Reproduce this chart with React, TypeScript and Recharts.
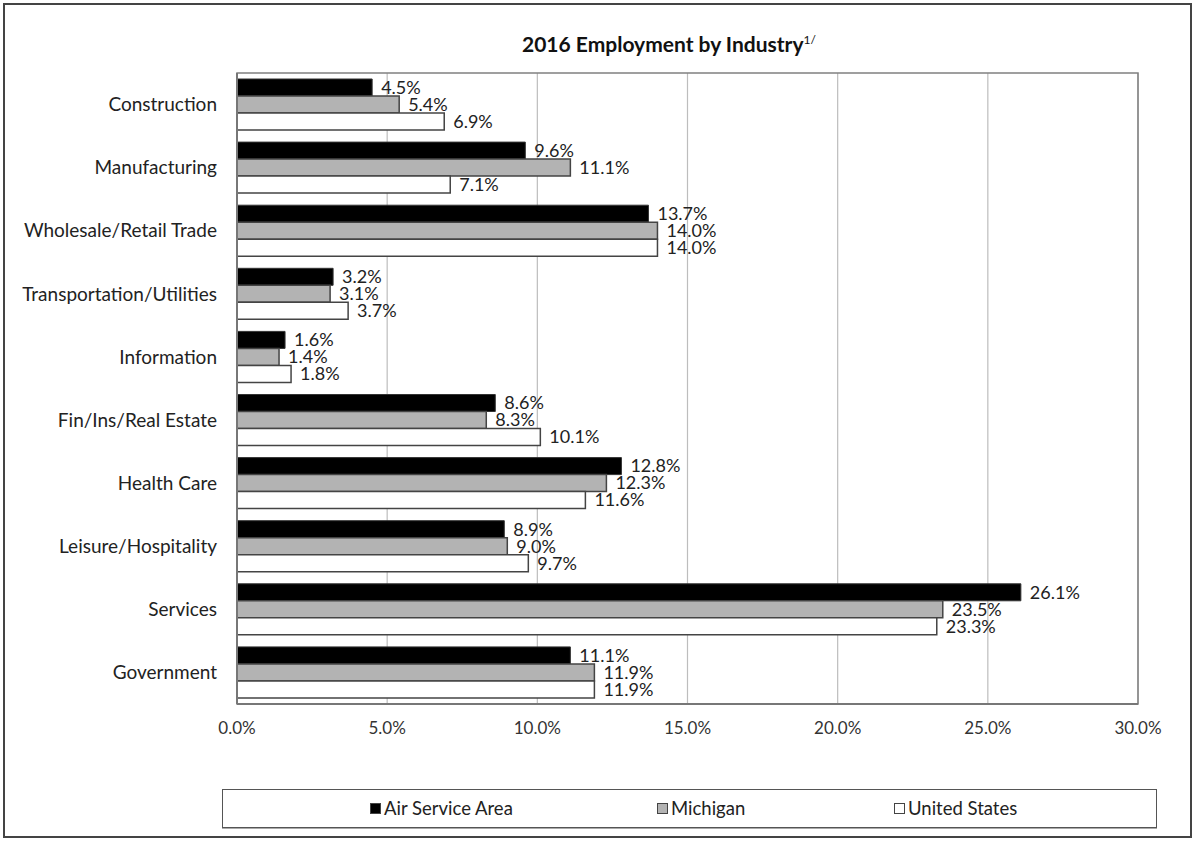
import React from 'react';
import { BarChart, Bar, XAxis, YAxis, CartesianGrid, LabelList, Legend, ReferenceArea } from 'recharts';

const categories = [
  'Construction',
  'Manufacturing',
  'Wholesale/Retail Trade',
  'Transportation/Utilities',
  'Information',
  'Fin/Ins/Real Estate',
  'Health Care',
  'Leisure/Hospitality',
  'Services',
  'Government',
];
const airServiceArea = [4.5, 9.6, 13.7, 3.2, 1.6, 8.6, 12.8, 8.9, 26.1, 11.1];
const michigan = [5.4, 11.1, 14.0, 3.1, 1.4, 8.3, 12.3, 9.0, 23.5, 11.9];
const unitedStates = [6.9, 7.1, 14.0, 3.7, 1.8, 10.1, 11.6, 9.7, 23.3, 11.9];
const xTicks = [0, 5, 10, 15, 20, 25, 30];

const data = categories.map((c, i) => ({
  name: c,
  asa: airServiceArea[i],
  mi: michigan[i],
  us: unitedStates[i],
}));

const FONT = 'Lato, "Open Sans", sans-serif';
const fmt = (v: any) => `${Number(v).toFixed(1)}%`;

const LegendContent = (props: any) => {
  const { payload } = props;
  const lefts = [147, 434, 671];
  return (
    <div
      style={{
        width: 935,
        height: 39,
        border: '1.5px solid #555',
        boxShadow: '0 1px 0 #aaa',
        boxSizing: 'border-box',
        position: 'relative',
        fontFamily: FONT,
        fontSize: 18.5,
        color: '#222',
        background: '#fff',
      }}
    >
      {(payload || []).map((p: any, i: number) => (
        <div key={i} style={{ position: 'absolute', left: lefts[i], top: 7, display: 'flex', alignItems: 'center' }}>
          <span
            style={{
              display: 'inline-block',
              width: 11,
              height: 11,
              background: p.payload.fill,
              border: '1.5px solid #444',
              boxSizing: 'border-box',
              marginRight: 3,
            }}
          />
          <span>{p.value}</span>
        </div>
      ))}
    </div>
  );
};

export default function App() {
  return (
    <div
      style={{
        position: 'absolute',
        left: 0,
        top: 0,
        width: 1195,
        height: 842,
        background: '#fff',
      }}
    >
      <div
        style={{
          position: 'absolute',
          left: 3,
          top: 3,
          width: 1189,
          height: 835,
          border: '2px solid #444',
          boxSizing: 'border-box',
        }}
      />
      <div
        style={{
          position: 'absolute',
          left: 522,
          top: 31,
          fontFamily: FONT,
          fontWeight: 'bold',
          fontSize: 21,
          color: '#111',
          whiteSpace: 'nowrap',
        }}
      >
        2016 Employment by Industry<sup style={{ fontSize: 12, fontWeight: 'normal' }}>1/</sup>
      </div>
      <BarChart
        width={1195}
        height={842}
        data={data}
        layout="vertical"
        margin={{ top: 73, right: 57, bottom: 108, left: 0 }}
        barGap={0}
        barCategoryGap={6}
        style={{ position: 'absolute', left: 0, top: 0 }}
      >
        <CartesianGrid horizontal={false} stroke="#bdbdbd" strokeWidth={1.2} />
        <ReferenceArea x1={0} x2={30} fill="none" fillOpacity={0} stroke="#808080" strokeWidth={1.5} ifOverflow="visible" />
        <XAxis
          type="number"
          domain={[0, 30]}
          ticks={xTicks}
          tickFormatter={fmt}
          axisLine={{ stroke: '#777', strokeWidth: 2 }}
          tickLine={false}
          tickMargin={12}
          height={30}
          tick={{ fontFamily: FONT, fontSize: 17, fill: '#333' }}
        />
        <YAxis
          type="category"
          dataKey="name"
          width={237}
          tickLine={false}
          tickSize={0}
          tickMargin={20}
          axisLine={{ stroke: '#777', strokeWidth: 2 }}
          tick={{ fontFamily: FONT, fontSize: 19, fill: '#222' }}
          interval={0}
        />
        <Legend
          layout="vertical"
          align="center"
          verticalAlign="middle"
          content={<LegendContent />}
          wrapperStyle={{ position: 'absolute', left: 222, top: 789, width: 935, height: 39 }}
        />
        <Bar dataKey="asa" name="Air Service Area" fill="#000000" stroke="#333" strokeWidth={1} barSize={17} isAnimationActive={false}>
          <LabelList dataKey="asa" position="right" offset={9} formatter={fmt} style={{ fontFamily: FONT, fontSize: 18, fill: '#222' }} />
        </Bar>
        <Bar dataKey="mi" name="Michigan" fill="#b3b3b3" stroke="#444" strokeWidth={1.5} barSize={17} isAnimationActive={false}>
          <LabelList dataKey="mi" position="right" offset={9} formatter={fmt} style={{ fontFamily: FONT, fontSize: 18, fill: '#222' }} />
        </Bar>
        <Bar dataKey="us" name="United States" fill="#ffffff" stroke="#444" strokeWidth={1.5} barSize={17} isAnimationActive={false}>
          <LabelList dataKey="us" position="right" offset={9} formatter={fmt} style={{ fontFamily: FONT, fontSize: 18, fill: '#222' }} />
        </Bar>
      </BarChart>
    </div>
  );
}
